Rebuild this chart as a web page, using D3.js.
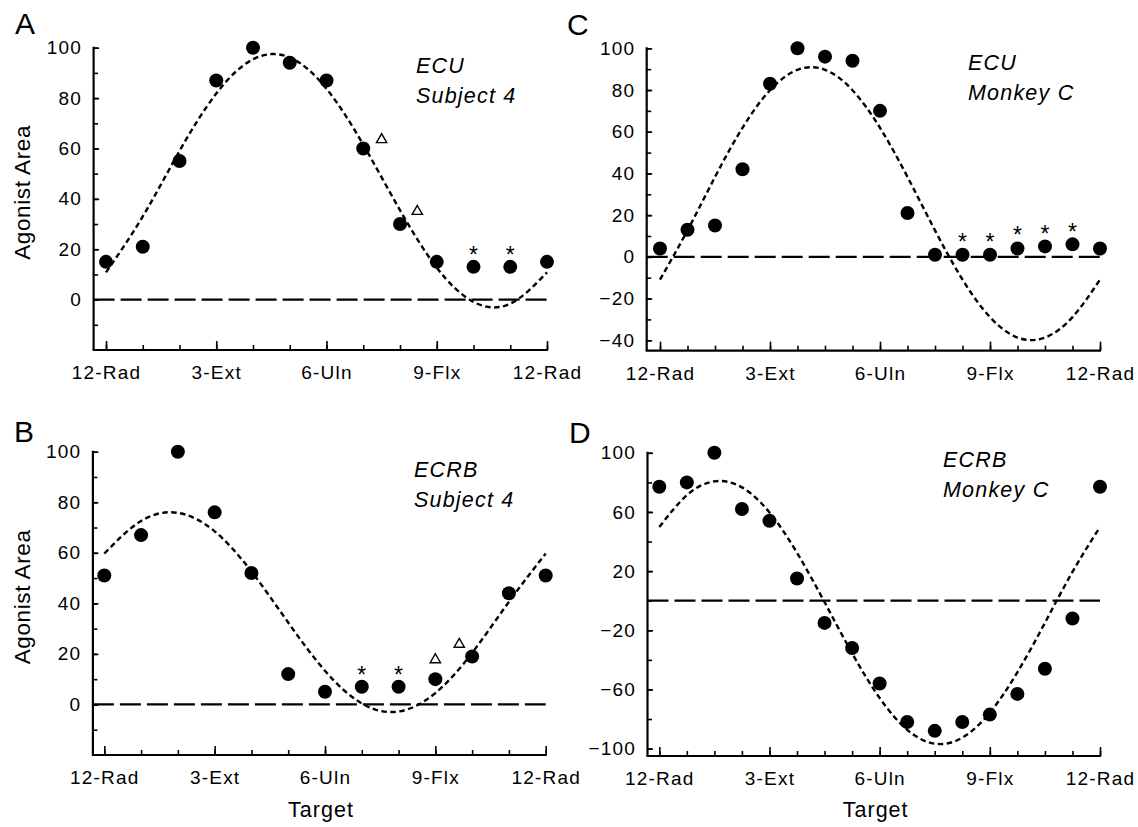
<!DOCTYPE html>
<html>
<head>
<meta charset="utf-8">
<script src="https://cdn.jsdelivr.net/npm/d3@7"></script>
<style>
    body { margin: 0; background: #fff; }
    svg { font-family: "Liberation Sans", Arial, Helvetica, sans-serif; }
</style>
</head>
<body>
<div id="chart"></div>
<script>
// targets (clock positions) and tick labels
var humanTargets = [0, 1, 2, 3, 4, 5, 6, 7, 8, 9, 10, 11, 12];
var monkeyTargets = [0, 1, 2, 3, 4, 5, 6, 7, 8, 9, 10, 11, 12, 13, 14, 15, 16];
var humanLabelTargets = [0, 3, 6, 9, 12];
var monkeyLabelTargets = [0, 4, 8, 12, 16];
var targetLabels = ["12-Rad", "3-Ext", "6-Uln", "9-Flx", "12-Rad"];

// A: ECU, Subject 4
var valuesA = [15, 21, 55, 87, 100, 94, 87, 60, 30, 15, 13, 13, 15];
var fitA = [10.8, 33.0, 59.0, 81.8, 95.4, 96.1, 83.7, 61.5, 35.5, 12.7, -0.9, -1.6, 10.8];
var starXA = [10, 11];
var starYA = [20, 20];
var triXA = [7.5, 8.47];
var triYA = [63.5, 35];

// B: ECRB, Subject 4
var valuesB = [51, 67, 100, 76, 52, 12, 5, 7, 7, 10, 19, 44, 51];
var fitB = [59.7, 72.6, 75.8, 68.5, 52.6, 32.4, 13.3, 0.4, -2.8, 4.5, 20.4, 40.6, 59.7];
var starXB = [7, 8];
var starYB = [14, 14];
var triXB = [9, 9.65];
var triYB = [17.7, 23.8];

// C: ECU, Monkey C
var valuesC = [4, 13, 15, 42, 83, 100, 96, 94, 70, 21, 1, 1, 1, 4, 5, 6, 4];
var fitC = [-10.9, 12.7, 38.3, 61.9, 79.9, 89.7, 89.7, 79.9, 61.9, 38.3, 12.7, -10.9, -28.9, -38.7, -38.7, -28.9, -10.9];
var starXC = [11, 12, 13, 14, 15];
var starYC = [9.7, 9.7, 13.3, 13.9, 14.9];

// D: ECRB, Monkey C
var valuesD = [77, 80, 100, 62, 54, 15, -15, -32, -56, -82, -88, -82, -77, -63, -46, -12, 77];
var fitD = [49.8, 71.3, 80.7, 76.6, 59.7, 32.4, -1.0, -35.5, -65.8, -87.3, -96.7, -92.6, -75.7, -48.4, -15.0, 19.5, 49.8];

var yTicksHuman = [-10, 0, 10, 20, 30, 40, 50, 60, 70, 80, 90, 100];
var yLabelsHuman = [0, 20, 40, 60, 80, 100];
var yTicksC = [-40, -30, -20, -10, 0, 10, 20, 30, 40, 50, 60, 70, 80, 90, 100];
var yLabelsC = [-40, -20, 0, 20, 40, 60, 80, 100];
var yTicksD = [-100, -80, -60, -40, -20, 0, 20, 40, 60, 80, 100];
var yLabelsD = [-100, -60, -20, 20, 60, 100];

var W = 1138, H = 827;

var svg = d3.select("#chart").append("svg")
    .attr("width", W)
    .attr("height", H);

function styleAxis(a, size) {
    a.attr("font-size", null).attr("font-family", null);
    a.select(".domain").remove();
    a.selectAll("line").attr("stroke", "#000").attr("stroke-width", 1.6);
    a.selectAll("text")
        .attr("fill", "#000")
        .style("font-size", size + "px")
        .style("letter-spacing", "1.2px");
}

function drawPanel(p) {
    var last = p.targets[p.targets.length - 1];
    var x = d3.scaleLinear().domain([0, last]).range([p.x0, p.x1]);
    var y = d3.scaleLinear().domain(p.yDomain).range([p.yBottom, p.yTop]);

    var g = svg.append("g");

    // y ticks (inside)
    g.append("g")
        .attr("transform", "translate(" + p.axisX + ",0)")
        .call(d3.axisLeft(y).tickValues(p.yTicks).tickSizeInner(-4.5).tickSizeOuter(0).tickFormat(""))
        .call(styleAxis, 19);
    g.append("g")
        .attr("transform", "translate(" + p.axisX + ",0)")
        .call(d3.axisLeft(y).tickValues(p.yLabels).tickSizeInner(-5.5).tickSizeOuter(0).tickPadding(11.5))
        .call(styleAxis, 19);

    // x ticks (inside, pointing up)
    g.append("g")
        .attr("transform", "translate(0," + p.yBottom + ")")
        .call(d3.axisBottom(x).tickValues(p.targets).tickSizeInner(-5).tickSizeOuter(0).tickFormat(""))
        .call(styleAxis, 19);
    g.append("g")
        .attr("transform", "translate(0," + p.yBottom + ")")
        .call(d3.axisBottom(x).tickValues(p.labelTargets).tickSizeInner(-9).tickSizeOuter(0).tickPadding(15.5)
            .tickFormat(function(d, i) { return targetLabels[i]; }))
        .call(styleAxis, 19);

    // axis lines
    g.append("line")
        .attr("x1", p.axisX).attr("x2", p.axisX)
        .attr("y1", y(100) - 1).attr("y2", p.yBottom)
        .attr("stroke", "#000").attr("stroke-width", 2.2);
    g.append("line")
        .attr("x1", p.axisX - 1).attr("x2", x(last) + 1)
        .attr("y1", p.yBottom).attr("y2", p.yBottom)
        .attr("stroke", "#000").attr("stroke-width", 2.2);

    // zero line
    g.append("line")
        .attr("x1", p.axisX).attr("x2", x(last))
        .attr("y1", y(0)).attr("y2", y(0))
        .attr("stroke", "#000").attr("stroke-width", 2.2)
        .attr("stroke-dasharray", "21,6");

    // cosine fit
    var line = d3.line()
        .x(function(d, i) { return x(p.targets[i]); })
        .y(function(d) { return y(d); })
        .curve(d3.curveNatural);
    g.append("path")
        .datum(p.fit)
        .attr("d", line)
        .attr("fill", "none")
        .attr("stroke", "#000")
        .attr("stroke-width", 2.4)
        .attr("stroke-dasharray", "5.5,3.5");

    // data points
    g.selectAll(".dot")
        .data(p.values)
        .enter().append("circle")
        .attr("class", "dot")
        .attr("cx", function(d, i) { return x(p.targets[i]); })
        .attr("cy", function(d) { return y(d); })
        .attr("r", 7)
        .attr("fill", "#000");

    // asterisks
    g.selectAll(".star")
        .data(p.starX)
        .enter().append("text")
        .attr("class", "star")
        .attr("x", function(d) { return x(d); })
        .attr("y", function(d, i) { return y(p.starY[i]); })
        .attr("dy", "0.6em")
        .attr("text-anchor", "middle")
        .style("font-size", "23px")
        .text("*");

    // open triangles
    g.selectAll(".tri")
        .data(p.triX)
        .enter().append("path")
        .attr("class", "tri")
        .attr("d", d3.symbol().type(d3.symbolTriangle).size(46))
        .attr("transform", function(d, i) { return "translate(" + x(d) + "," + y(p.triY[i]) + ")"; })
        .attr("fill", "#fff")
        .attr("stroke", "#000")
        .attr("stroke-width", 1.4);

    // panel letter
    svg.append("text")
        .attr("x", p.letterX).attr("y", p.letterY)
        .style("font-size", "30px")
        .text(p.letter);

    // muscle / subject note
    p.note.forEach(function(t, i) {
        svg.append("text")
            .attr("x", p.noteX)
            .attr("y", p.noteY + i * 30)
            .style("font-size", "21.5px")
            .style("font-style", "italic")
            .style("letter-spacing", "1.2px")
            .text(t);
    });

    if (p.yTitle) {
        svg.append("text")
            .attr("transform", "translate(29.5," + ((p.yBottom + p.yTop) / 2 - 6.5) + ") rotate(-90)")
            .attr("text-anchor", "middle")
            .style("font-size", "22.5px")
            .style("letter-spacing", "0.6px")
            .text("Agonist Area");
    }
    if (p.xTitle) {
        svg.append("text")
            .attr("x", (p.x0 + p.x1) / 2 - 4)
            .attr("y", 817)
            .attr("text-anchor", "middle")
            .style("font-size", "21.5px")
            .style("letter-spacing", "1px")
            .text("Target");
    }
}

drawPanel({
    letter: "A", letterX: 15, letterY: 34,
    note: ["ECU", "Subject 4"], noteX: 416, noteY: 73,
    targets: humanTargets, labelTargets: humanLabelTargets,
    values: valuesA, fit: fitA,
    starX: starXA, starY: starYA, triX: triXA, triY: triYA,
    x0: 106, x1: 547, axisX: 93.6,
    yDomain: [-20, 100], yTop: 47.7, yBottom: 350,
    yTicks: yTicksHuman, yLabels: yLabelsHuman,
    yTitle: true, xTitle: false
});

drawPanel({
    letter: "B", letterX: 14, letterY: 442,
    note: ["ECRB", "Subject 4"], noteX: 414, noteY: 477,
    targets: humanTargets, labelTargets: humanLabelTargets,
    values: valuesB, fit: fitB,
    starX: starXB, starY: starYB, triX: triXB, triY: triYB,
    x0: 104.3, x1: 545.7, axisX: 92.9,
    yDomain: [-20, 100], yTop: 451.7, yBottom: 755,
    yTicks: yTicksHuman, yLabels: yLabelsHuman,
    yTitle: true, xTitle: true
});

drawPanel({
    letter: "C", letterX: 567, letterY: 35,
    note: ["ECU", "Monkey C"], noteX: 968, noteY: 70,
    targets: monkeyTargets, labelTargets: monkeyLabelTargets,
    values: valuesC, fit: fitC,
    starX: starXC, starY: starYC, triX: [], triY: [],
    x0: 660, x1: 1100, axisX: 646.7,
    yDomain: [-45, 100], yTop: 48.3, yBottom: 350.7,
    yTicks: yTicksC, yLabels: yLabelsC,
    yTitle: false, xTitle: false
});

drawPanel({
    letter: "D", letterX: 569, letterY: 443,
    note: ["ECRB", "Monkey C"], noteX: 943, noteY: 467,
    targets: monkeyTargets, labelTargets: monkeyLabelTargets,
    values: valuesD, fit: fitD,
    starX: [], starY: [], triX: [], triY: [],
    x0: 659.3, x1: 1100, axisX: 647.5,
    yDomain: [-105, 100], yTop: 452.8, yBottom: 756,
    yTicks: yTicksD, yLabels: yLabelsD,
    yTitle: false, xTitle: true
});
</script>
</body>
</html>
